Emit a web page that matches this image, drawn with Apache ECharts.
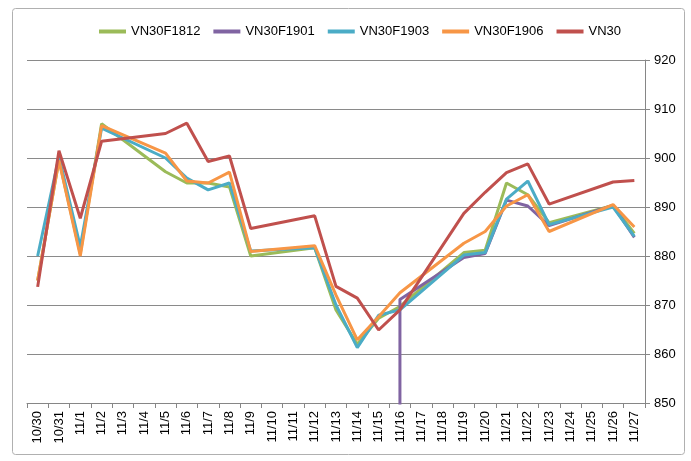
<!DOCTYPE html>
<html><head><meta charset="utf-8">
<script src="https://cdn.jsdelivr.net/npm/echarts@6/dist/echarts.min.js"></script>
<style>html,body{margin:0;padding:0;background:#fff}#c{width:691px;height:461px}</style>
</head><body><div id="c"></div>
<script>
const categories = ['10/30','10/31','11/1','11/2','11/3','11/4','11/5','11/6','11/7','11/8','11/9','11/10','11/11','11/12','11/13','11/14','11/15','11/16','11/17','11/18','11/19','11/20','11/21','11/22','11/23','11/24','11/25','11/26','11/27'];
const yTicks = [850, 920, 10];
const vn30f1812 = [875, 899.6, 880.5, 907, null, null, 897.2, 894.9, 894.9, 894.1, 880, null, null, 881.7, 869, 862, 867.3, 869.7, null, null, 880.7, 881.2, 894.9, 892.5, 886.8, null, null, 890.3, 884.6];
const vn30f1901 = [['11/16', 0], ['11/16', 871.1], ['11/19', 879.7], ['11/20', 880.5], ['11/21', 891.4], ['11/22', 890.2], ['11/23', 886.2], ['11/26', 890.3], ['11/27', 883.8]];
const vn30f1903 = [880, 900.3, 881.9, 906.1, null, null, 900, 895.9, 893.5, 894.9, 881, null, null, 881.7, 870, 861.3, 867.9, 869, null, null, 880.2, 880.7, 891.6, 895.3, 886.4, null, null, 890, 884];
const vn30f1906 = [875, 899.5, 880, 906.6, null, null, 901, 895.3, 894.9, 897.1, 880.9, null, null, 882.1, 872, 862.9, 867.6, 872.5, null, null, 882.6, 885, 890.2, 892.5, 885, null, null, 890.5, 885.9];
const vn30 = [873.7, 901.5, 887.7, 903.4, null, null, 905, 907.1, 899.3, 900.4, 885.6, null, null, 888.2, 873.8, 871.4, 864.9, 869, null, null, 888.7, 893, 897, 898.8, 890.6, null, null, 895.1, 895.4];

const names = ['VN30F1812','VN30F1901','VN30F1903','VN30F1906','VN30'];
const colors = ['#9BBB59','#8064A2','#4BACC6','#F79646','#C0504D'];
const datas = [vn30f1812, vn30f1901, vn30f1903, vn30f1906, vn30];

const chart = echarts.init(document.getElementById('c'), null, {renderer:'canvas'});
chart.setOption({
  animation: false,
  color: colors,
  textStyle: {fontFamily: 'Liberation Sans, Arial, sans-serif'},
  graphic: [{type:'rect', shape:{x:12.5,y:8.5,width:672,height:446,r:3}, style:{fill:'none', stroke:'#b0b0b0', lineWidth:1}, silent:true}],
  legend: {
    top: 20, left: 94,
    icon: 'rect', itemWidth: 27, itemHeight: 4, itemGap: 13,
    textStyle: {fontSize: 13, color: '#000', fontFamily: 'Liberation Sans, Arial, sans-serif'},
    data: names
  },
  grid: {left: 27, right: 46, top: 60, bottom: 58},
  xAxis: {
    type: 'category', data: categories, boundaryGap: true,
    axisLine: {lineStyle: {color: '#868686'}},
    axisTick: {show: true, length: 5, lineStyle: {color: '#868686'}},
    axisLabel: {rotate: 90, fontSize: 13, color: '#000', margin: 8, interval: 0}
  },
  yAxis: {
    type: 'value', position: 'right', min: yTicks[0], max: yTicks[1], interval: yTicks[2],
    axisLine: {show: true, lineStyle: {color: '#868686'}},
    axisTick: {show: true, length: 5, lineStyle: {color: '#868686'}},
    axisLabel: {fontSize: 13, color: '#000', margin: 9},
    splitLine: {lineStyle: {color: '#8a8a8a', width: 1}}
  },
  series: datas.map((d, i) => ({
    name: names[i], type: 'line', data: d, symbol: 'none', connectNulls: true,
    clip: true, lineStyle: {width: 3, color: colors[i]}, itemStyle: {color: colors[i]}, z: 2 + i
  }))
});
</script></body></html>
